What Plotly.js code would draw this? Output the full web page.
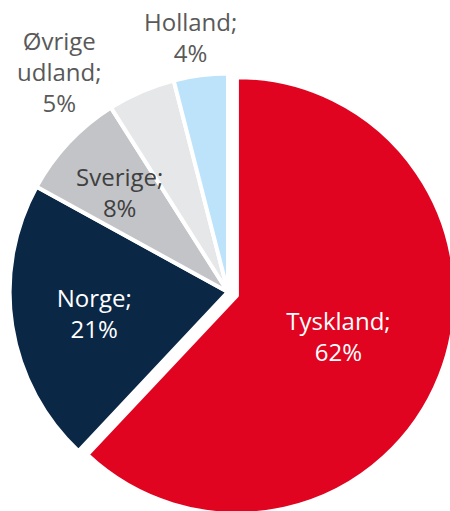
<!DOCTYPE html>
<html>
<head>
<meta charset="utf-8">
<script src="https://cdn.plot.ly/plotly-3.0.1.min.js"></script>
<style>
html, body { margin: 0; padding: 0; overflow: hidden; background: #ffffff; }
#chart { width: 458px; height: 520px; }
</style>
</head>
<body>
<div id="chart"></div>
<script>
const countries = ["Tyskland", "Norge", "Sverige", "Øvrige<br>udland", "Holland"];
const shares = [62, 21, 8, 5, 4];
const sliceColors = ["#E00421", "#0A2746", "#C3C4C8", "#E6E7E9", "#BDE3FA"];
const labelColors = ["#FFFFFF", "#FFFFFF", "#404040", "#595959", "#595959"];
// slice text drawn by the pie itself for the two big slices; the three small
// slices get their label as an annotation (placed like the reference)
const pieTextPositions = ["inside", "inside", "none", "none", "none"];
const pulls = [0.044, 0, 0, 0, 0];

// label placement (paper coordinates) for the small slices: [index, x, y]
const annotatedLabels = [
  [2, 0.262, 0.631],
  [3, 0.131, 0.862],
  [4, 0.415, 0.929]
];

const fontFamily = "Open Sans, sans-serif";
const total = shares.reduce((a, b) => a + b, 0);
const labelText = i => countries[i] + ";<br>" + Math.round(100 * shares[i] / total) + "%";

const pieTrace = {
  type: "pie",
  labels: countries,
  values: shares,
  sort: false,
  direction: "clockwise",
  rotation: 0,
  pull: pulls,
  marker: { colors: sliceColors, line: { color: "#FFFFFF", width: 4 } },
  texttemplate: "%{label};<br>%{percent:.0%}",
  textposition: pieTextPositions,
  insidetextorientation: "horizontal",
  textfont: { family: fontFamily, size: 24, color: labelColors },
  hoverinfo: "none",
  showlegend: false,
  domain: { x: [0, 0.9956], y: [0, 0.877] }
};

const layout = {
  width: 458,
  height: 520,
  margin: { l: 0, r: 0, t: 0, b: 0 },
  paper_bgcolor: "#FFFFFF",
  plot_bgcolor: "#FFFFFF",
  showlegend: false,
  uniformtext: { mode: "show", minsize: 24 },
  font: { family: fontFamily },
  annotations: annotatedLabels.map(([i, x, y]) => ({
    xref: "paper", yref: "paper", x: x, y: y,
    xanchor: "center", yanchor: "middle",
    text: labelText(i), showarrow: false, align: "center",
    font: { family: fontFamily, size: 24, color: labelColors[i] }
  }))
};

Plotly.newPlot("chart", [pieTrace], layout, { displayModeBar: false, staticPlot: true });
</script>
</body>
</html>
